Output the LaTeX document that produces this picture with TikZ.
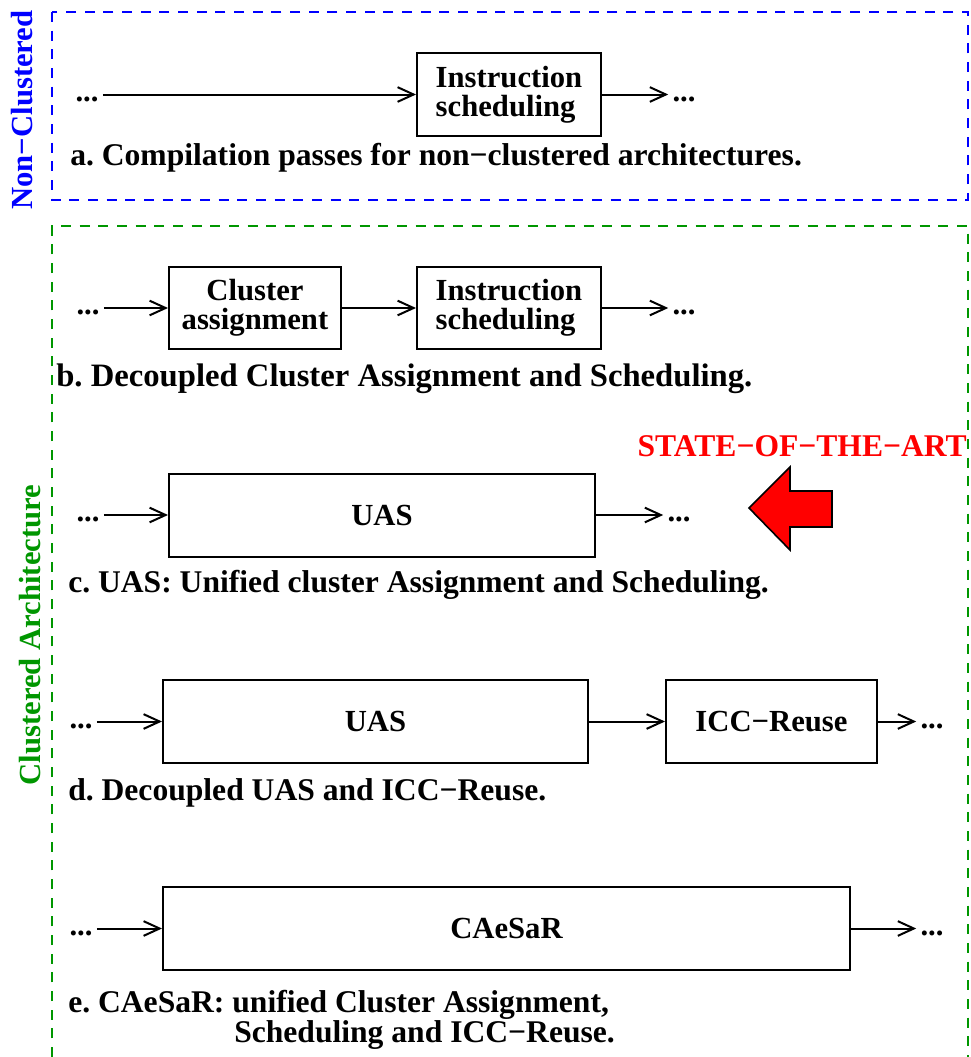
\documentclass[tikz,border=0pt]{standalone}
\usepackage{fontspec}
\setmainfont{Liberation Serif}
\usetikzlibrary{arrows.meta}
\definecolor{vert}{RGB}{0,150,0}
\frenchspacing
\tikzset{
  texte/.style={font=\fontsize{23}{22}\selectfont\bfseries, inner sep=0pt},
  legende/.style={font=\fontsize{23.7}{24}\selectfont\bfseries, inner sep=0pt, anchor=base west},
  passe/.style={texte, draw, line width=1.5pt},
  points/.style={texte, inner xsep=3pt},
  fleche/.style={-{Straight Barb[length=12pt,width=11pt]}, line width=1.5pt},
  cadre/.style={dashed, dash pattern=on 7.5pt off 6.5pt, line width=1.5pt}
}
\begin{document}
\begin{tikzpicture}[x=0.75pt, y=-0.75pt]
            \useasboundingbox (0,0) rectangle (971,1057);
            % Cadres
            \draw[cadre, blue] (52,12) rectangle (968,200);
            \draw[cadre, vert] (52,1057) -- (52,226) -- (968,226) -- (968,1057);
            \node[texte, blue, rotate=90] (nc) at (22,110) {Non−Clustered};
            \node[texte, vert, rotate=90] (ca) at (30,635) {Clustered Architecture};
            % a.
            \node[points] (pa1) at (87,99) {...};
            \node[passe, minimum width=184*0.75pt, minimum height=83*0.75pt, align=left] (is1) at (509,94.5) {Instruction\\scheduling};
            \node[points] (pa2) at (684,99) {...};
            \draw[fleche] (pa1.east |- is1.west) -- (is1.west);
            \draw[fleche] (is1.east) -- (is1.east -| pa2.west);
            \node[legende] (la) at (70,165) {a. Compilation passes for non−clustered architectures.};
            % b.
            \node[points] (pb1) at (88,312) {...};
            \node[passe, minimum width=172*0.75pt, minimum height=82*0.75pt, align=center] (cl) at (255,308) {Cluster\\assignment};
            \node[passe, minimum width=184*0.75pt, minimum height=82*0.75pt, align=left] (is2) at (509,308) {Instruction\\scheduling};
            \node[points] (pb2) at (684,312) {...};
            \draw[fleche] (pb1.east |- cl.west) -- (cl.west);
            \draw[fleche] (cl.east) -- (is2.west);
            \draw[fleche] (is2.east) -- (is2.east -| pb2.west);
            \node[legende, font=\fontsize{24.5}{24}\selectfont\bfseries] (lb) at (56,386) {b. Decoupled Cluster Assignment and Scheduling.};
            % c.
            \node[points] (pc1) at (88,519) {...};
            \node[passe, minimum width=426*0.75pt, minimum height=83*0.75pt] (uas1) at (382,515) {UAS};
            \node[points] (pc2) at (679,519) {...};
            \draw[fleche] (pc1.east |- uas1.west) -- (uas1.west);
            \draw[fleche] (uas1.east) -- (uas1.east -| pc2.west);
            \node[legende] (lc) at (68,592) {c. UAS: Unified cluster Assignment and Scheduling.};
            \node[legende, red, anchor=base east] (sota) at (967,456) {STATE−OF−THE−ART};
            \draw[fill=red, line width=1.2pt] (749,508) -- (790,467) -- (790,491) -- (832,491)
                -- (832,527) -- (790,527) -- (790,550) -- cycle;
            % d.
            \node[points] (pd1) at (81,726) {...};
            \node[passe, minimum width=425*0.75pt, minimum height=83*0.75pt] (uas2) at (375.5,721.5) {UAS};
            \node[passe, minimum width=211*0.75pt, minimum height=83*0.75pt] (icc) at (771.5,721.5) {ICC−Reuse};
            \node[points] (pd2) at (932,726) {...};
            \draw[fleche] (pd1.east |- uas2.west) -- (uas2.west);
            \draw[fleche] (uas2.east) -- (icc.west);
            \draw[fleche] (icc.east) -- (icc.east -| pd2.west);
            \node[legende] (ld) at (68,800) {d. Decoupled UAS and ICC−Reuse.};
            % e.
            \node[points] (pe1) at (81,933) {...};
            \node[passe, minimum width=687*0.75pt, minimum height=83*0.75pt] (cae) at (506.5,928.5) {CAeSaR};
            \node[points] (pe2) at (932,933) {...};
            \draw[fleche] (pe1.east |- cae.west) -- (cae.west);
            \draw[fleche] (cae.east) -- (cae.east -| pe2.west);
            \node[legende] (le1) at (68,1012) {e. CAeSaR: unified Cluster Assignment,};
            \node[legende] (le2) at (234,1042) {Scheduling and ICC−Reuse.};
        \end{tikzpicture}
\end{document}
